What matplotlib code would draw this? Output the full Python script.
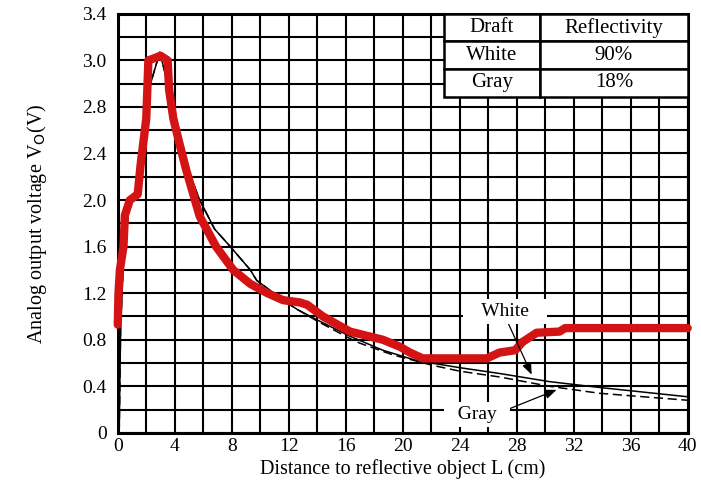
import numpy as np
import matplotlib
matplotlib.use("Agg")
import matplotlib.pyplot as plt
from matplotlib.ticker import MultipleLocator

plt.rcParams['font.family'] = ['Liberation Serif', 'DejaVu Serif']

# ---- data (y in grid units; axis labelled as in the original) ----
white_x = [0.1, 0.2, 0.4, 0.8, 1.4, 1.8, 2.3, 2.95, 3.3, 3.9, 4.6, 5.75, 6.8, 7.9, 9.3,
           9.75, 11.6, 12.6, 14.0, 16.3, 18.6, 21.0, 24.0, 26.8, 30.3, 33.8, 40.0]
white_y = [0.0, 0.9, 1.5, 1.95, 2.1, 2.5, 3.0, 3.27, 3.1, 2.77, 2.37, 2.0, 1.75, 1.6, 1.40,
           1.31, 1.14, 1.06, 0.97, 0.83, 0.71, 0.62, 0.56, 0.51, 0.44, 0.39, 0.31]

gray_x = [0.1, 0.2, 0.4, 0.8, 1.4, 1.8, 2.3, 2.95, 3.3, 3.9, 4.6, 5.75, 6.8, 7.9, 9.3,
          9.75, 11.6, 12.6, 14.0, 16.3, 17.0, 19.3, 22.1, 24.0, 26.8, 30.3, 33.8, 40.0]
gray_y = [0.0, 0.9, 1.5, 1.95, 2.1, 2.5, 3.0, 3.27, 3.1, 2.77, 2.37, 2.0, 1.75, 1.6, 1.40,
          1.31, 1.14, 1.06, 0.96, 0.81, 0.77, 0.67, 0.58, 0.53, 0.48, 0.40, 0.34, 0.28]

red_x = [0, 0.05, 0.15, 0.4, 0.5, 0.85, 1.4, 1.6, 1.9, 2.0, 2.15, 2.6, 3.0, 3.5, 3.6, 3.9,
         4.3, 4.8, 5.75, 6.9, 8.1, 9.3, 10.5, 11.6, 12.8, 13.3, 14.4, 16.3, 18.6, 19.8,
         20.5, 21.4, 23.3, 25.9, 26.8, 27.9, 28.4, 29.4, 31.0, 31.4, 40.0]
red_y = [0.93, 1.2, 1.4, 1.6, 1.87, 2.0, 2.05, 2.3, 2.6, 2.7, 3.2, 3.22, 3.24, 3.2, 2.95, 2.7,
         2.5, 2.26, 1.86, 1.6, 1.4, 1.28, 1.2, 1.14, 1.12, 1.10, 1.0, 0.87, 0.8, 0.74,
         0.69, 0.64, 0.64, 0.64, 0.69, 0.71, 0.78, 0.86, 0.87, 0.9, 0.9]

x_ticks = [0, 4, 8, 12, 16, 20, 24, 28, 32, 36, 40]
y_ticks = [0, 0.4, 0.8, 1.2, 1.6, 2.0, 2.4, 2.8, 3.2, 3.6]
y_tick_labels = ['0', '0.4', '0.8', '1.2', '1.6', '2.0', '2.4', '2.8', '3.0', '3.4']

table_rows = [['Draft', 'Reflectivity'], ['White', '90%'], ['Gray', '18%']]

# ---- figure ----
fig = plt.figure(figsize=(7.01, 4.93), dpi=100)
ax = fig.add_axes([0.168, 0.122, 0.813, 0.850])

ax.set_xlim(0, 40)
ax.set_ylim(0, 3.6)
ax.set_xticks(x_ticks)
ax.set_xticklabels([str(v) for v in x_ticks])
ax.set_yticks(y_ticks)
ax.set_yticklabels(y_tick_labels)
ax.xaxis.set_minor_locator(MultipleLocator(2))
ax.yaxis.set_minor_locator(MultipleLocator(0.2))
ax.grid(which='both', color='black', linewidth=1.5)
ax.set_axisbelow(True)
ax.tick_params(which='both', length=0, labelsize=14)
ax.tick_params(axis='y', pad=8)
ax.tick_params(axis='x', pad=4)
for s in ax.spines.values():
    s.set_linewidth(2.2)
    s.set_color('black')

ax.plot(white_x, white_y, color='black', linewidth=1.1, zorder=3)
ax.plot(gray_x, gray_y, color='black', linewidth=1.1, linestyle=(0, (6, 3)), zorder=3)
ax.plot(red_x, red_y, color='#d41414', linewidth=6, solid_joinstyle='round',
        solid_capstyle='round', zorder=4, clip_on=False)

ax.set_xlabel('Distance to reflective object L (cm)', fontsize=14.5, labelpad=3)
ax.set_ylabel('Analog output voltage V$_{\\mathrm{O}}$(V)', fontsize=14.5, labelpad=24)

# table
tbl = ax.table(cellText=table_rows, cellLoc='center', colWidths=[96, 147],
               bbox=[0.572, 0.802, 0.428, 0.198], zorder=6)
tbl.auto_set_font_size(False)
tbl.set_fontsize(15)
for (r, c), cell in tbl.get_celld().items():
    cell.set_facecolor('white')
    cell.set_edgecolor('black')
    cell.set_linewidth(1.8)
    cell.set_zorder(6)

# annotations
ax.annotate('   White   ', xy=(29.05, 0.50), xytext=(27.2, 1.04), fontsize=14,
            ha='center', va='center', zorder=7,
            bbox=dict(boxstyle='square,pad=0.2', fc='white', ec='none'),
            arrowprops=dict(arrowstyle='-|>,head_length=0.5,head_width=0.2',
                            color='black', lw=0.9, shrinkA=0, shrinkB=0,
                            relpos=(0.5, 0.2)))
ax.annotate('  Gray  ', xy=(30.8, 0.37), xytext=(25.2, 0.155), fontsize=14,
            ha='center', va='center', zorder=7,
            bbox=dict(boxstyle='square,pad=0.2', fc='white', ec='none'),
            arrowprops=dict(arrowstyle='-|>,head_length=0.5,head_width=0.2',
                            color='black', lw=0.9, shrinkA=0, shrinkB=0,
                            relpos=(0.8, 0.5)))

fig.savefig('out.png', dpi=100, facecolor='white')
